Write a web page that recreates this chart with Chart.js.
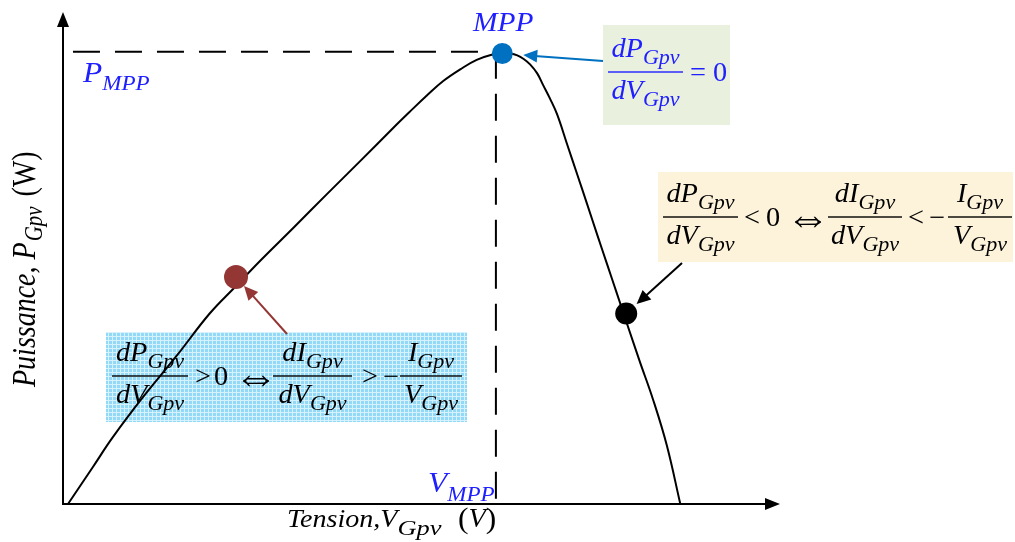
<!DOCTYPE html>
<html>
<head>
<meta charset="utf-8">
<script src="https://cdn.jsdelivr.net/npm/chart.js@4.4.1/dist/chart.umd.min.js"></script>
<style>
  html, body { margin: 0; padding: 0; background: #fff; }
  #wrap { width: 1015px; height: 542px; }
</style>
</head>
<body>
<div id="wrap"><canvas id="pvChart" width="1015" height="542"></canvas></div>
<script>
// P-V curve of the PV generator, normalised units (V: % of axis, P: % of P_MPP)
const voltage = [0, 3.5, 6.3, 10.5, 15.3, 19.9, 23.6, 27.0, 31.6, 36.4, 41.0, 45.6, 48.0, 50.4, 52.7, 55.1, 57.4, 59.7, 61.0,
  62.1, 63.1, 64.0, 64.9, 65.9, 66.7, 67.7, 68.7, 70.1, 71.5, 72.9, 74.3, 75.7, 77.1, 78.5, 80.3, 82.2, 84.1, 86.0];
const power = [0, 8.2, 14.8, 23.6, 32.9, 42.2, 48.3, 53.9, 61.1, 68.7, 75.9, 83.2, 86.9, 90.5, 93.7, 96.3, 98.4, 99.6, 99.9,
  99.8, 99.4, 98.6, 97.4, 95.4, 92.9, 89.8, 86.3, 79.7, 73.1, 66.5, 59.8, 53.2, 46.6, 40.0, 31.6, 23.0, 13.0, 0];

// operating points: MPP, left side (dP/dV > 0), right side (dP/dV < 0)
const pointV = [61.0, 23.6, 78.4];
const pointP = [99.8, 50.3, 42.2];
const pointColors = ['#0070C0', '#943634', '#000000'];

// dashed guides to P_MPP and V_MPP
const vMpp = 60.1;
const pMpp = 100.2;
const guideH = [{ x: 0.7, y: pMpp }, { x: vMpp, y: pMpp }];
const guideV = [{ x: vMpp, y: pMpp }, { x: vMpp, y: -1.3 }];

const SERIF = '"Liberation Serif", "Times New Roman", "DejaVu Serif", serif';
const BLUE_TXT = '#2020FF';

function fnt(size, italic) {
  return (italic ? 'italic ' : '') + size + 'px ' + SERIF;
}

function runWidth(ctx, text, size, italic, sx) {
  ctx.font = fnt(size, italic);
  return ctx.measureText(text).width * sx;
}

function run(ctx, text, x, y, size, italic, sx) {
  ctx.font = fnt(size, italic);
  const w = ctx.measureText(text).width * sx;
  ctx.save();
  ctx.translate(x, y);
  ctx.scale(sx, 1);
  ctx.fillText(text, 0, 0);
  ctx.restore();
  return w;
}

// italic symbol with italic subscript, e.g. ['dP', 'Gpv']
const M = { size: 27, sub: 21, drop: 7, gap: 0, sx: 1.05, up: 15, down: 27 };

function symWidth(ctx, s, m) {
  return runWidth(ctx, s[0], m.size, true, m.sx) + m.gap + runWidth(ctx, s[1], m.sub, true, m.sx);
}

function sym(ctx, s, x, y, m) {
  let w = run(ctx, s[0], x, y, m.size, true, m.sx) + m.gap;
  w += run(ctx, s[1], x + w, y + m.drop, m.sub, true, m.sx);
  return w;
}

function frac(ctx, x0, x1, yBar, num, den, m) {
  ctx.fillRect(x0, yBar - 0.7, x1 - x0, 1.4);
  const cx = (x0 + x1) / 2;
  sym(ctx, num, cx - symWidth(ctx, num, m) / 2, yBar - m.up, m);
  sym(ctx, den, cx - symWidth(ctx, den, m) / 2, yBar + m.down, m);
}

function gridPattern(ctx) {
  const c = document.createElement('canvas');
  c.width = 4; c.height = 4;
  const g = c.getContext('2d');
  g.fillStyle = '#92D8F7';
  g.fillRect(0, 0, 4, 4);
  g.fillStyle = '#D8F2FD';
  g.fillRect(0, 0, 4, 1);
  g.fillRect(0, 0, 1, 4);
  return ctx.createPattern(c, 'repeat');
}

const dPdV = [['dP', 'Gpv'], ['dV', 'Gpv']];
const dIdV = [['dI', 'Gpv'], ['dV', 'Gpv']];
const IV = [['I', 'Gpv'], ['V', 'Gpv']];

const boxes = [
  { x: 603, y: 25, w: 127, h: 100, fill: '#E9F0DD', color: BLUE_TXT, bar: 72,
    items: [{ frac: dPdV, x0: 608, x1: 683 }, { t: '=', x: 690 }, { t: '0', x: 713 }] },
  { x: 658, y: 172, w: 355, h: 90, fill: '#FDF3DB', color: '#000', bar: 217,
    items: [{ frac: dPdV, x0: 663, x1: 738 }, { t: '<', x: 744 }, { t: '0', x: 766 }, { t: '\u21D4', x: 786, big: true },
      { frac: dIdV, x0: 828, x1: 902 }, { t: '<', x: 908 }, { t: '\u2212', x: 929 }, { frac: IV, x0: 948, x1: 1012 }] },
  { x: 106, y: 332, w: 361, h: 90, fill: 'grid', color: '#000', bar: 376,
    items: [{ frac: dPdV, x0: 112, x1: 188 }, { t: '>', x: 195 }, { t: '0', x: 214 }, { t: '\u21D4', x: 234, big: true },
      { frac: dIdV, x0: 273, x1: 352 }, { t: '>', x: 362 }, { t: '\u2212', x: 383 }, { frac: IV, x0: 400, x1: 462 }] }
];

function drawBoxes(ctx) {
  for (const b of boxes) {
    ctx.fillStyle = b.fill === 'grid' ? gridPattern(ctx) : b.fill;
    ctx.fillRect(b.x, b.y, b.w, b.h);
    ctx.fillStyle = b.color;
    for (const it of b.items) {
      if (it.frac) {
        frac(ctx, it.x0, it.x1, b.bar, it.frac[0], it.frac[1], M);
      } else if (it.big) {
        run(ctx, it.t, it.x, b.bar + 15, 44, false, 1.0);
      } else {
        run(ctx, it.t, it.x, b.bar + 9, M.size, false, M.sx);
      }
    }
  }
}

function arrowHead(ctx, tx, ty, fx, fy, len, half) {
  const a = Math.atan2(ty - fy, tx - fx);
  ctx.beginPath();
  ctx.moveTo(tx, ty);
  ctx.lineTo(tx - len * Math.cos(a) + half * Math.sin(a), ty - len * Math.sin(a) - half * Math.cos(a));
  ctx.lineTo(tx - len * Math.cos(a) - half * Math.sin(a), ty - len * Math.sin(a) + half * Math.cos(a));
  ctx.closePath();
  ctx.fill();
}

function arrow(ctx, fx, fy, tx, ty, color) {
  const a = Math.atan2(ty - fy, tx - fx);
  ctx.strokeStyle = color;
  ctx.fillStyle = color;
  ctx.lineWidth = 2;
  ctx.beginPath();
  ctx.moveTo(fx, fy);
  ctx.lineTo(tx - 8 * Math.cos(a), ty - 8 * Math.sin(a));
  ctx.stroke();
  arrowHead(ctx, tx, ty, fx, fy, 14, 6.5);
}

// callout tails (on the boxes) and distance of each tip from its point
const callouts = [
  { point: 0, tail: [603, 61], gap: 21 },
  { point: 1, tail: [287, 334], gap: 12 },
  { point: 2, tail: [682, 263], gap: 14 }
];

const diagramPlugin = {
  id: 'diagram',
  beforeDatasetsDraw(chart) {
    const ctx = chart.ctx;
    const { left, right, top, bottom } = chart.chartArea;
    ctx.save();
    drawBoxes(ctx);

    // axes with arrow heads
    ctx.strokeStyle = '#000';
    ctx.fillStyle = '#000';
    ctx.lineWidth = 2;
    ctx.beginPath();
    ctx.moveTo(left, bottom + 1);
    ctx.lineTo(left, top + 10);
    ctx.moveTo(left - 1, bottom);
    ctx.lineTo(right - 10, bottom);
    ctx.stroke();
    arrowHead(ctx, left, top, left, bottom, 15, 6);
    arrowHead(ctx, right, bottom, left, bottom, 15, 6);
    ctx.restore();
  },
  afterDatasetsDraw(chart) {
    const ctx = chart.ctx;
    const meta = chart.getDatasetMeta(0);
    ctx.save();
    for (const c of callouts) {
      const p = meta.data[c.point];
      const dx = c.tail[0] - p.x, dy = c.tail[1] - p.y;
      const d = Math.hypot(dx, dy);
      arrow(ctx, c.tail[0], c.tail[1], p.x + dx / d * c.gap, p.y + dy / d * c.gap, pointColors[c.point]);
    }

    // MPP labels
    ctx.fillStyle = BLUE_TXT;
    run(ctx, 'MPP', 473, 31, 28, true, 1.05);
    let w = run(ctx, 'P', 83, 82, 30, true, 1.05);
    run(ctx, 'MPP', 83 + w, 90, 22, true, 1.05);
    w = run(ctx, 'V', 428, 492, 30, true, 1.05);
    run(ctx, 'MPP', 428 + w, 501, 22, true, 1.05);

    // x axis title
    ctx.fillStyle = '#000';
    let x = 287;
    x += run(ctx, 'Tension,', x, 527, 26, true, 1.08);
    x += run(ctx, 'V', x, 527, 26, true, 1.08);
    run(ctx, 'Gpv', x, 535, 22, true, 1.2);
    x = 458;
    x += run(ctx, '(', x, 528, 30, false, 1.05);
    x += run(ctx, 'V', x, 527, 27, true, 1.05);
    run(ctx, ')', x, 528, 30, false, 1.05);

    // y axis title, rotated
    ctx.translate(35, 387);
    ctx.rotate(-Math.PI / 2);
    ctx.scale(1, 1.2);
    x = 0;
    x += run(ctx, 'Puissance,', x, 0, 28, true, 1) + 7;
    x += run(ctx, 'P', x, 0, 28, true, 1) + 1;
    x += run(ctx, 'Gpv', x, 6, 21, true, 1) + 10;
    x += run(ctx, '(', x, 0, 28, false, 1);
    x += run(ctx, 'W', x, 0, 28, false, 1);
    run(ctx, ')', x, 0, 28, false, 1);
    ctx.restore();
  }
};

const chartCtx = document.getElementById('pvChart').getContext('2d');
new Chart(chartCtx, {
  type: 'scatter',
  data: {
    datasets: [
      {
        label: 'Operating points',
        data: pointV.map((v, i) => ({ x: v, y: pointP[i] })),
        pointRadius: [10.5, 12, 11],
        pointBackgroundColor: pointColors,
        pointBorderColor: pointColors,
        pointBorderWidth: 0,
        order: 0,
        clip: false
      },
      {
        label: 'P-V',
        data: voltage.map((v, i) => ({ x: v, y: power[i] })),
        showLine: true,
        borderColor: '#000',
        borderWidth: 2,
        pointRadius: 0,
        tension: 0.4,
        order: 1,
        clip: false
      },
      {
        label: 'P_MPP',
        data: guideH,
        showLine: true,
        borderColor: '#000',
        borderWidth: 2,
        borderDash: [27, 15],
        pointRadius: 0,
        order: 2,
        clip: false
      },
      {
        label: 'V_MPP',
        data: guideV,
        showLine: true,
        borderColor: '#000',
        borderWidth: 2,
        borderDash: [27, 15],
        pointRadius: 0,
        order: 2,
        clip: false
      }
    ]
  },
  options: {
    responsive: false,
    animation: false,
    devicePixelRatio: 1,
    events: [],
    layout: { padding: { left: 63, right: 235, top: 10, bottom: 38 } },
    scales: {
      x: { type: 'linear', min: -0.7, max: 100, display: false },
      y: { type: 'linear', min: 0, max: 109, display: false }
    },
    plugins: {
      legend: { display: false },
      tooltip: { enabled: false }
    }
  },
  plugins: [diagramPlugin]
});
</script>
</body>
</html>
